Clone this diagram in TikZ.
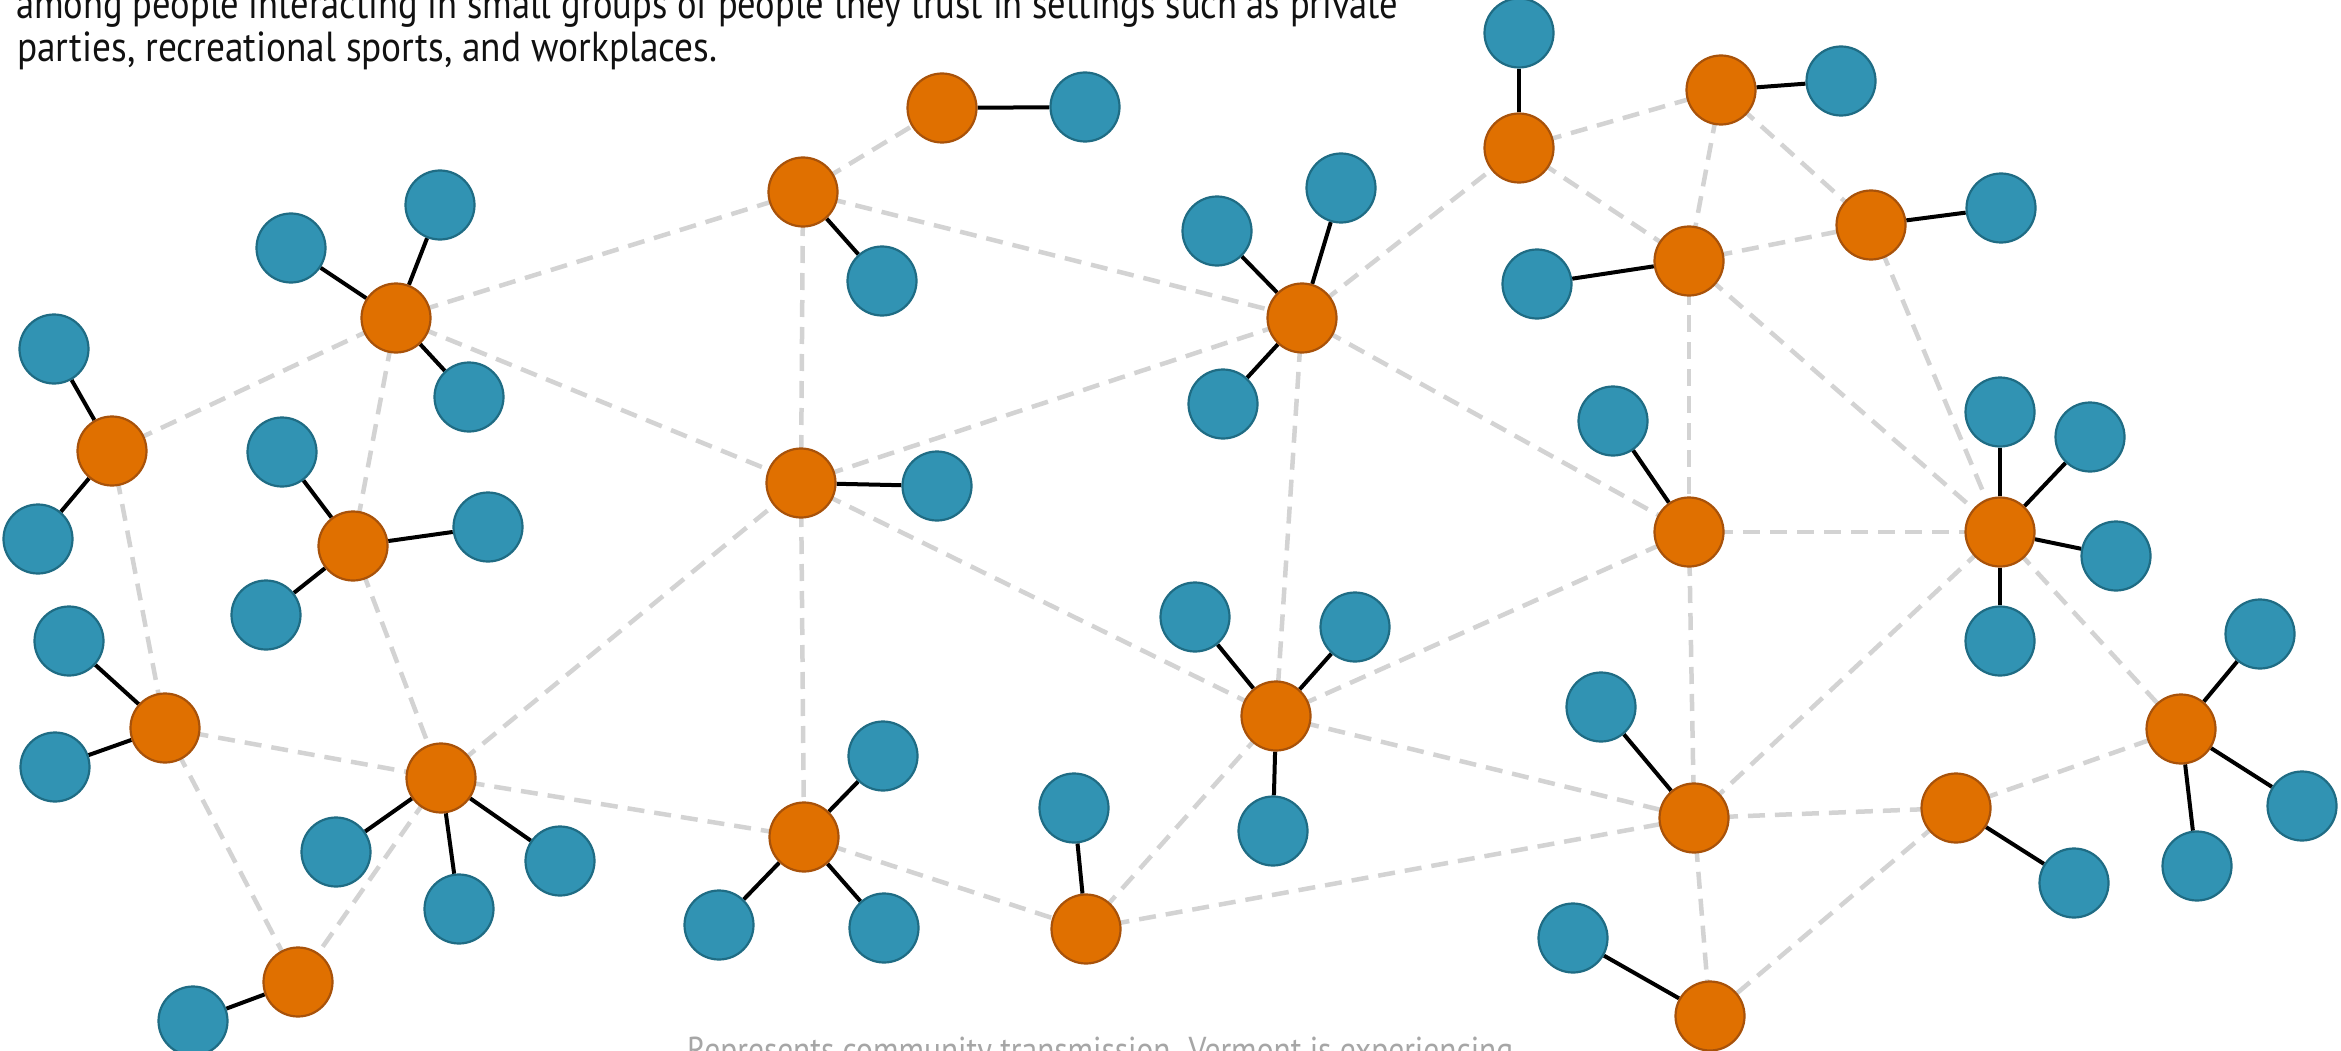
\documentclass[tikz,border=0pt]{standalone}
\usepackage{fontspec}
\setmainfont{PT Sans}
\usepackage{graphicx}
\pgfdeclarelayer{back}
\pgfdeclarelayer{bg}
\pgfsetlayers{back,bg,main}
\definecolor{hubfill}{HTML}{E07000}
\definecolor{hubline}{HTML}{A8520A}
\definecolor{leaffill}{HTML}{3193B3}
\definecolor{leafline}{HTML}{1F6C84}
\definecolor{tiegray}{HTML}{D3D3D3}
\definecolor{capgray}{HTML}{A6A6A6}
\definecolor{bodytext}{HTML}{111111}
\tikzset{
  hub/.style={circle, fill=hubfill, draw=hubline, line width=2.2pt, minimum size=69pt, inner sep=0pt},
  leaf/.style={circle, fill=leaffill, draw=leafline, line width=2.2pt, minimum size=69pt, inner sep=0pt},
  link/.style={draw=black, line width=4pt},
  tie/.style={draw=tiegray, line width=4.5pt, dash pattern=on 17pt off 10pt},
  txt/.style={inner sep=0pt, anchor=base west, text=bodytext, font=\fontsize{42}{48}\selectfont},
  footnote/.style={inner sep=0pt, anchor=base west, text=capgray, font=\fontsize{36}{40}\selectfont}
}
\begin{document}
\begin{tikzpicture}[x=1pt, y=-1pt]
\useasboundingbox (0,0) rectangle (2341,1051);
\begin{pgfonlayer}{back}
\fill[white] (0,0) rectangle (2341,1051);
\end{pgfonlayer}

% text
\node[txt] (t1) at (16,19) {\resizebox{1382pt}{\height}{among people interacting in small groups of people they trust in settings such as private}};
\node[txt] (t2) at (17,62) {\resizebox{700pt}{\height}{parties, recreational sports, and workplaces.}};
\node[footnote] (t3) at (687,1062) {\resizebox{826pt}{\height}{Represents community transmission. Vermont is experiencing}};

% hubs
\node[hub] (o1) at (112,451) {};
\node[hub] (o2) at (396,318) {};
\node[hub] (o3) at (353,546) {};
\node[hub] (o4) at (165,728) {};
\node[hub] (o5) at (441,778) {};
\node[hub] (o6) at (298,982) {};
\node[hub] (o7) at (803,192) {};
\node[hub] (o8) at (942,108) {};
\node[hub] (o9) at (801,483) {};
\node[hub] (o10) at (804,837) {};
\node[hub] (o11) at (1086,929) {};
\node[hub] (o12) at (1302,318) {};
\node[hub] (o13) at (1276,716) {};
\node[hub] (o14) at (1519,148) {};
\node[hub] (o15) at (1721,90) {};
\node[hub] (o16) at (1689,261) {};
\node[hub] (o17) at (1871,225) {};
\node[hub] (o18) at (1689,532) {};
\node[hub] (o19) at (2000,532) {};
\node[hub] (o20) at (1694,818) {};
\node[hub] (o21) at (1956,808) {};
\node[hub] (o22) at (2181,729) {};
\node[hub] (o23) at (1710,1016) {};

% leaves
\node[leaf] (b1a) at (54,349) {};
\node[leaf] (b1b) at (38,539) {};
\node[leaf] (b2a) at (291,248) {};
\node[leaf] (b2b) at (440,205) {};
\node[leaf] (b2c) at (469,397) {};
\node[leaf] (b3a) at (282,452) {};
\node[leaf] (b3b) at (488,527) {};
\node[leaf] (b3c) at (266,615) {};
\node[leaf] (b4a) at (69,641) {};
\node[leaf] (b4b) at (55,767) {};
\node[leaf] (b5a) at (336,852) {};
\node[leaf] (b5b) at (459,909) {};
\node[leaf] (b5c) at (560,861) {};
\node[leaf] (b6a) at (193,1021) {};
\node[leaf] (b7a) at (882,281) {};
\node[leaf] (b8a) at (1085,107) {};
\node[leaf] (b9a) at (937,486) {};
\node[leaf] (b10a) at (883,756) {};
\node[leaf] (b10b) at (719,925) {};
\node[leaf] (b10c) at (884,928) {};
\node[leaf] (b11a) at (1074,808) {};
\node[leaf] (b12a) at (1217,231) {};
\node[leaf] (b12b) at (1341,188) {};
\node[leaf] (b12c) at (1223,404) {};
\node[leaf] (b13a) at (1195,617) {};
\node[leaf] (b13b) at (1355,627) {};
\node[leaf] (b13c) at (1273,831) {};
\node[leaf] (b14a) at (1519,33) {};
\node[leaf] (b15a) at (1841,81) {};
\node[leaf] (b16a) at (1537,284) {};
\node[leaf] (b17a) at (2001,208) {};
\node[leaf] (b18a) at (1613,421) {};
\node[leaf] (b19a) at (2000,412) {};
\node[leaf] (b19b) at (2090,437) {};
\node[leaf] (b19c) at (2116,556) {};
\node[leaf] (b19d) at (2000,641) {};
\node[leaf] (b20a) at (1601,707) {};
\node[leaf] (b21a) at (2074,883) {};
\node[leaf] (b22a) at (2260,634) {};
\node[leaf] (b22b) at (2302,806) {};
\node[leaf] (b22c) at (2197,866) {};
\node[leaf] (b23a) at (1573,938) {};

\begin{pgfonlayer}{bg}
% dashed ties between hubs
\foreach \a/\b in {o1/o2, o1/o4, o2/o3, o2/o7, o2/o9, o3/o5, o4/o5, o4/o6, o5/o6,
  o5/o9, o5/o10, o7/o8, o7/o9, o7/o12, o9/o10, o9/o12, o9/o13, o10/o11, o11/o13,
  o11/o20, o12/o13, o12/o14, o12/o18, o13/o18, o13/o20, o14/o15, o14/o16, o15/o16,
  o15/o17, o16/o17, o16/o18, o16/o19, o17/o19, o18/o19, o18/o20, o19/o20, o19/o22,
  o20/o21, o20/o23, o21/o22, o21/o23}
  \draw[tie] (\a.center) -- (\b.center);
% solid links hub to leaf
\foreach \a/\b in {o1/b1a, o1/b1b, o2/b2a, o2/b2b, o2/b2c, o3/b3a, o3/b3b, o3/b3c,
  o4/b4a, o4/b4b, o5/b5a, o5/b5b, o5/b5c, o6/b6a, o7/b7a, o8/b8a, o9/b9a,
  o10/b10a, o10/b10b, o10/b10c, o11/b11a, o12/b12a, o12/b12b, o12/b12c,
  o13/b13a, o13/b13b, o13/b13c, o14/b14a, o15/b15a, o16/b16a, o17/b17a, o18/b18a,
  o19/b19a, o19/b19b, o19/b19c, o19/b19d, o20/b20a, o21/b21a, o22/b22a, o22/b22b,
  o22/b22c, o23/b23a}
  \draw[link] (\a) -- (\b);
\end{pgfonlayer}
\end{tikzpicture}
\end{document}
